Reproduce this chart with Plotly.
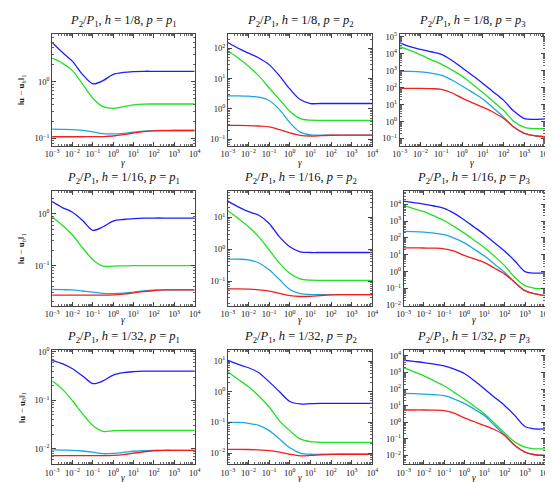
import math
import plotly.graph_objects as go

# gamma sample points (log10 of gamma)
gamma_exp = [-3, -2.5, -2, -1.5, -1, -0.5, 0, 0.5, 1, 1.5, 2, 2.5, 3, 3.5, 4]

h_labels = ["1/8", "1/16", "1/32"]
p_labels = ["1", "2", "3"]

# log10 of ||u - u_h||_1, per panel and per curve
# h = 1/8
h8_p1_blue = [0.694, 0.52, 0.36, 0.127, -0.035, 0.02, 0.13, 0.165, 0.18, 0.185, 0.185, 0.185, 0.185, 0.185, 0.185]
h8_p1_green = [0.416, 0.33, 0.197, -0.046, -0.29, -0.44, -0.47, -0.44, -0.41, -0.395, -0.393, -0.393, -0.393, -0.393, -0.393]
h8_p1_cyan = [-0.838, -0.84, -0.845, -0.86, -0.885, -0.915, -0.92, -0.91, -0.89, -0.872, -0.862, -0.861, -0.861, -0.861, -0.861]
h8_p1_red = [-0.971, -0.971, -0.971, -0.971, -0.970, -0.968, -0.958, -0.935, -0.905, -0.88, -0.867, -0.863, -0.861, -0.861, -0.861]

h8_p2_blue = [2.19, 2.0, 1.84, 1.68, 1.46, 1.09, 0.66, 0.31, 0.18, 0.18, 0.18, 0.18, 0.18, 0.18, 0.18]
h8_p2_green = [1.91, 1.68, 1.41, 1.09, 0.69, 0.31, -0.075, -0.32, -0.37, -0.375, -0.375, -0.375, -0.375, -0.375, -0.375]
h8_p2_cyan = [0.43, 0.43, 0.42, 0.39, 0.28, -0.02, -0.45, -0.76, -0.85, -0.86, -0.86, -0.86, -0.86, -0.86, -0.86]
h8_p2_red = [-0.54, -0.54, -0.545, -0.56, -0.59, -0.68, -0.79, -0.87, -0.89, -0.88, -0.865, -0.86, -0.86, -0.86, -0.86]

h8_p3_blue = [4.65, 4.42, 4.26, 4.12, 3.97, 3.62, 3.18, 2.72, 2.25, 1.75, 1.25, 0.6, 0.17, 0.13, 0.16]
h8_p3_green = [4.42, 4.2, 3.94, 3.66, 3.39, 3.05, 2.68, 2.2, 1.71, 1.18, 0.65, 0.0, -0.34, -0.42, -0.42]
h8_p3_cyan = [2.97, 2.96, 2.93, 2.86, 2.74, 2.45, 2.1, 1.72, 1.33, 0.8, 0.26, -0.34, -0.7, -0.84, -0.9]
h8_p3_red = [1.96, 1.96, 1.96, 1.94, 1.9, 1.7, 1.38, 1.1, 0.84, 0.55, 0.18, -0.34, -0.7, -0.84, -0.9]

# h = 1/16
h16_p1_blue = [0.234, 0.12, 0.03, -0.13, -0.32, -0.25, -0.14, -0.11, -0.095, -0.085, -0.082, -0.082, -0.082, -0.082, -0.082]
h16_p1_green = [-0.063, -0.22, -0.41, -0.66, -0.886, -1.01, -1.01, -1.005, -1.0, -1.0, -1.0, -1.0, -1.0, -1.0, -1.0]
h16_p1_cyan = [-1.46, -1.465, -1.47, -1.49, -1.51, -1.535, -1.54, -1.53, -1.51, -1.49, -1.475, -1.47, -1.47, -1.47, -1.47]
h16_p1_red = [-1.57, -1.57, -1.57, -1.57, -1.57, -1.57, -1.565, -1.55, -1.525, -1.5, -1.48, -1.47, -1.47, -1.47, -1.47]

h16_p2_blue = [1.51, 1.33, 1.18, 1.07, 0.81, 0.39, 0.08, -0.08, -0.1, -0.1, -0.1, -0.1, -0.1, -0.1, -0.1]
h16_p2_green = [1.21, 0.97, 0.71, 0.39, -0.02, -0.435, -0.75, -0.93, -0.97, -0.975, -0.975, -0.975, -0.975, -0.975, -0.975]
h16_p2_cyan = [-0.31, -0.31, -0.33, -0.43, -0.64, -0.95, -1.26, -1.39, -1.42, -1.42, -1.42, -1.42, -1.42, -1.42, -1.42]
h16_p2_red = [-1.24, -1.24, -1.25, -1.27, -1.31, -1.38, -1.45, -1.48, -1.475, -1.45, -1.43, -1.42, -1.42, -1.42, -1.42]

h16_p3_blue = [4.18, 4.09, 4.0, 3.89, 3.75, 3.45, 3.06, 2.63, 2.19, 1.7, 1.21, 0.63, 0.0, -0.09, -0.07]
h16_p3_green = [3.9, 3.74, 3.55, 3.3, 3.03, 2.67, 2.28, 1.85, 1.41, 0.9, 0.34, -0.35, -0.83, -0.99, -1.0]
h16_p3_cyan = [2.38, 2.37, 2.34, 2.28, 2.19, 1.98, 1.7, 1.32, 0.92, 0.44, -0.05, -0.64, -1.13, -1.32, -1.42]
h16_p3_red = [1.41, 1.41, 1.40, 1.39, 1.35, 1.22, 0.96, 0.75, 0.53, 0.2, -0.15, -0.64, -1.13, -1.32, -1.42]

# h = 1/32
h32_p1_blue = [-0.177, -0.246, -0.35, -0.5, -0.655, -0.6, -0.48, -0.43, -0.41, -0.4, -0.4, -0.4, -0.4, -0.4, -0.4]
h32_p1_green = [-0.6, -0.77, -1.01, -1.28, -1.52, -1.64, -1.625, -1.62, -1.62, -1.62, -1.62, -1.62, -1.62, -1.62, -1.62]
h32_p1_cyan = [-2.02, -2.025, -2.03, -2.045, -2.07, -2.1, -2.095, -2.075, -2.05, -2.035, -2.03, -2.03, -2.03, -2.03, -2.03]
h32_p1_red = [-2.14, -2.14, -2.14, -2.14, -2.14, -2.14, -2.135, -2.12, -2.09, -2.06, -2.04, -2.03, -2.03, -2.03, -2.03]

h32_p2_blue = [1.02, 0.89, 0.78, 0.62, 0.32, 0.0, -0.32, -0.4, -0.39, -0.38, -0.38, -0.38, -0.38, -0.38, -0.38]
h32_p2_green = [0.65, 0.4, 0.16, -0.14, -0.5, -0.95, -1.27, -1.54, -1.63, -1.65, -1.65, -1.65, -1.65, -1.65, -1.65]
h32_p2_cyan = [-1.0, -1.0, -1.03, -1.1, -1.27, -1.54, -1.83, -2.0, -2.04, -2.04, -2.04, -2.04, -2.04, -2.04, -2.04]
h32_p2_red = [-1.88, -1.88, -1.885, -1.9, -1.92, -1.97, -2.04, -2.09, -2.08, -2.06, -2.045, -2.04, -2.04, -2.04, -2.04]

h32_p3_blue = [3.74, 3.67, 3.6, 3.5, 3.4, 3.2, 2.94, 2.5, 2.0, 1.5, 1.0, 0.4, -0.26, -0.4, -0.4]
h32_p3_green = [3.3, 3.05, 2.8, 2.5, 2.2, 1.8, 1.4, 0.95, 0.5, -0.08, -0.66, -1.2, -1.5, -1.6, -1.6]
h32_p3_cyan = [1.74, 1.73, 1.7, 1.66, 1.6, 1.4, 1.14, 0.78, 0.4, -0.2, -0.8, -1.4, -1.8, -1.96, -2.0]
h32_p3_red = [0.74, 0.74, 0.74, 0.73, 0.7, 0.55, 0.26, 0.03, -0.2, -0.45, -0.8, -1.4, -1.8, -1.96, -2.0]

panels = [
    [(h8_p1_blue, h8_p1_green, h8_p1_cyan, h8_p1_red),
     (h8_p2_blue, h8_p2_green, h8_p2_cyan, h8_p2_red),
     (h8_p3_blue, h8_p3_green, h8_p3_cyan, h8_p3_red)],
    [(h16_p1_blue, h16_p1_green, h16_p1_cyan, h16_p1_red),
     (h16_p2_blue, h16_p2_green, h16_p2_cyan, h16_p2_red),
     (h16_p3_blue, h16_p3_green, h16_p3_cyan, h16_p3_red)],
    [(h32_p1_blue, h32_p1_green, h32_p1_cyan, h32_p1_red),
     (h32_p2_blue, h32_p2_green, h32_p2_cyan, h32_p2_red),
     (h32_p3_blue, h32_p3_green, h32_p3_cyan, h32_p3_red)],
]

# y-axis ranges (log10) per panel
y_ranges = [
    [(-1.13, 0.85), (-1.21, 2.48), (-1.43, 5.19)],
    [(-1.78, 0.44), (-1.78, 1.83), (-2.04, 4.78)],
    [(-2.32, 0.03), (-2.37, 1.35), (-2.54, 4.34)],
]

colors = ["#1c1cff", "#22e022", "#1ca8dc", "#f51e1e"]  # blue, green, cyan, red

W, H = 553, 482
col_px = [(38, 184), (218, 366), (396, 543)]
col3_left_by_row = [394, 398, 398]
row_px = [(22, 136), (182, 299), (344, 460)]
title_y_px = [9, 169, 330]
gamma_y_px = [154, 313, 474]

FONT = "Liberation Serif, DejaVu Serif, serif"

fig = go.Figure()
annotations = []

gamma_vals = [10 ** g for g in gamma_exp]
x_decades = list(range(-3, 5))


def power_label(d):
    return f"10<sup>{'−' if d < 0 else ''}{abs(d)}</sup>"


for r in range(3):
    for c in range(3):
        idx = r * 3 + c + 1
        xa = "x" if idx == 1 else f"x{idx}"
        ya = "y" if idx == 1 else f"y{idx}"
        for k in range(4):
            vals = panels[r][c][k]
            fig.add_trace(go.Scatter(
                x=gamma_vals, y=[10 ** v for v in vals],
                mode="lines", line=dict(color=colors[k], width=1.3, shape="spline", smoothing=0.9),
                xaxis=xa, yaxis=ya, showlegend=False, hoverinfo="skip"))

        left, right = col_px[c]
        if c == 2:
            left = col3_left_by_row[r]
        top, bot = row_px[r]
        xd = [left / W, right / W]
        yd = [1 - bot / H, 1 - top / H]
        ylo, yhi = y_ranges[r][c]
        y_decades = list(range(math.ceil(ylo), math.floor(yhi) + 1))
        y_minor = [m * 10 ** d for d in range(math.floor(ylo), math.ceil(yhi) + 1) for m in range(2, 10)]
        x_minor = [m * 10 ** d for d in range(-3, 4) for m in range(2, 10)]
        axis_common = dict(
            type="log", showgrid=False, zeroline=False, showline=True, linecolor="#444",
            linewidth=1, mirror="allticks", ticks="inside", ticklen=4, tickwidth=0.8,
            tickcolor="#444", tickfont=dict(family=FONT, size=8.5, color="#111"),
            ticklabeloverflow="allow",
        )
        xname = "xaxis" if idx == 1 else f"xaxis{idx}"
        yname = "yaxis" if idx == 1 else f"yaxis{idx}"
        fig.layout[xname] = dict(
            axis_common, domain=xd, anchor=ya, range=[-3, 4],
            tickmode="array", tickvals=[10 ** d for d in x_decades],
            ticktext=[power_label(d) for d in x_decades],
            minor=dict(tickmode="array", tickvals=x_minor, ticks="inside", ticklen=2,
                       tickcolor="#666", tickwidth=0.6, showgrid=False),
        )
        fig.layout[yname] = dict(
            axis_common, domain=yd, anchor=xa, range=[ylo, yhi],
            tickmode="array", tickvals=[10 ** d for d in y_decades],
            ticktext=[power_label(d) for d in y_decades],
            minor=dict(tickmode="array", tickvals=y_minor, ticks="inside", ticklen=2,
                       tickcolor="#666", tickwidth=0.6, showgrid=False),
        )
        cx = (xd[0] + xd[1]) / 2
        annotations.append(dict(
            text=f"<i>P</i><sub>2</sub>/<i>P</i><sub>1</sub>, <i>h</i> = {h_labels[r]}, <i>p</i> = <i>p</i><sub>{p_labels[c]}</sub>",
            x=cx, y=1 - title_y_px[r] / H, xref="paper", yref="paper",
            xanchor="center", yanchor="middle", showarrow=False,
            font=dict(family=FONT, size=12.5, color="#111")))
        annotations.append(dict(
            text="<i>γ</i>", x=cx, y=1 - gamma_y_px[r] / H, xref="paper", yref="paper",
            xanchor="center", yanchor="middle", showarrow=False,
            font=dict(family=FONT, size=9.5, color="#111")))
    ymid = 1 - (row_px[r][0] + row_px[r][1]) / 2 / H
    annotations.append(dict(
        text="‖<b>u</b> − <b>u</b><sub><i>h</i></sub>‖<sub>1</sub>",
        x=7 / W, y=ymid, xref="paper", yref="paper", textangle=-90,
        xanchor="center", yanchor="middle", showarrow=False,
        font=dict(family=FONT, size=9, color="#111")))

fig.update_layout(
    width=W, height=H, margin=dict(l=0, r=0, t=0, b=0),
    paper_bgcolor="white", plot_bgcolor="white",
    annotations=annotations, showlegend=False,
)

fig.write_html("out.html")
